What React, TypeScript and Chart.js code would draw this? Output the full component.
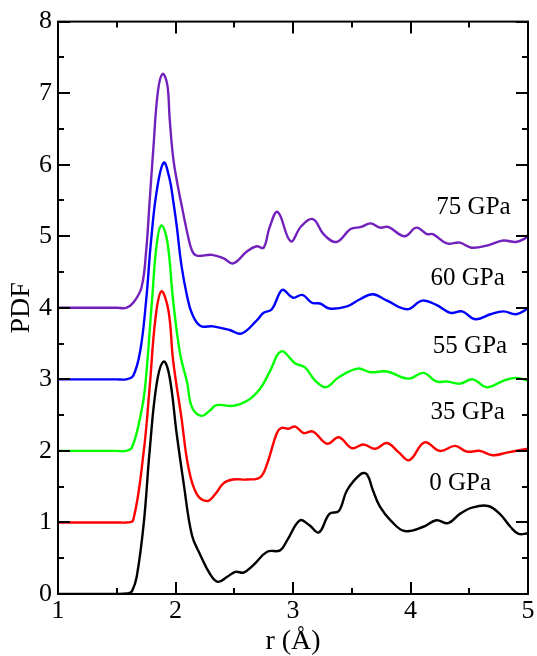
import React, { useEffect, useRef } from "react";
import { Chart, registerables } from "chart.js";

Chart.register(...registerables);

// Values are plotted PDF values, each curve already shifted by its offset (0,1,2,3,4)
const r0 = [1.0, 1.5, 1.6, 1.63, 1.67, 1.73, 1.78, 1.84, 1.9, 1.95, 2.01, 2.07, 2.14, 2.21, 2.29, 2.36, 2.44, 2.51, 2.58, 2.66, 2.78, 2.89, 2.95, 3.06, 3.14, 3.22, 3.31, 3.39, 3.46, 3.58, 3.63, 3.68, 3.74, 3.83, 3.95, 4.11, 4.22, 4.32, 4.42, 4.53, 4.66, 4.76, 4.85, 4.92, 5.0];
const g0 = [0, 0, 0.01, 0.04, 0.24, 0.99, 2.0, 2.94, 3.25, 3.03, 2.24, 1.54, 0.82, 0.55, 0.29, 0.17, 0.24, 0.31, 0.3, 0.4, 0.59, 0.61, 0.75, 1.03, 0.96, 0.86, 1.12, 1.16, 1.45, 1.68, 1.67, 1.45, 1.22, 1.03, 0.88, 0.94, 1.03, 0.99, 1.12, 1.21, 1.23, 1.12, 0.94, 0.84, 0.85];

const r35 = [1.0, 1.5, 1.58, 1.64, 1.73, 1.78, 1.83, 1.88, 1.94, 1.98, 2.05, 2.11, 2.18, 2.27, 2.34, 2.41, 2.49, 2.61, 2.72, 2.78, 2.86, 2.9, 2.96, 3.02, 3.09, 3.17, 3.29, 3.39, 3.5, 3.6, 3.7, 3.8, 3.9, 3.99, 4.12, 4.25, 4.38, 4.48, 4.59, 4.7, 4.83, 5.0];
const g35 = [1, 1, 1.0, 1.03, 2.0, 2.89, 3.86, 4.23, 3.96, 3.26, 2.47, 1.77, 1.4, 1.3, 1.4, 1.55, 1.6, 1.6, 1.63, 1.82, 2.24, 2.32, 2.31, 2.34, 2.25, 2.27, 2.1, 2.19, 2.04, 2.09, 2.03, 2.11, 1.98, 1.87, 2.12, 2.0, 2.07, 1.99, 2.0, 1.94, 1.98, 2.03];

const r55 = [1.0, 1.5, 1.58, 1.63, 1.7, 1.74, 1.8, 1.84, 1.88, 1.93, 1.98, 2.04, 2.1, 2.14, 2.22, 2.29, 2.35, 2.49, 2.61, 2.72, 2.8, 2.9, 3.02, 3.1, 3.19, 3.28, 3.39, 3.55, 3.66, 3.8, 3.98, 4.11, 4.22, 4.31, 4.42, 4.53, 4.65, 4.79, 4.9, 5.0];
const g55 = [2, 2, 2.0, 2.05, 2.47, 2.87, 4.1, 4.89, 5.15, 4.93, 4.1, 3.35, 2.95, 2.61, 2.49, 2.56, 2.64, 2.63, 2.7, 2.87, 3.1, 3.39, 3.22, 3.17, 2.98, 2.89, 3.03, 3.15, 3.1, 3.11, 3.01, 3.09, 2.97, 2.97, 2.94, 3.0, 2.89, 2.98, 3.02, 2.98];

const r60 = [1.0, 1.5, 1.58, 1.64, 1.7, 1.75, 1.79, 1.84, 1.9, 1.95, 1.98, 2.01, 2.05, 2.1, 2.14, 2.21, 2.32, 2.46, 2.56, 2.69, 2.75, 2.82, 2.89, 2.92, 3.0, 3.08, 3.16, 3.23, 3.31, 3.46, 3.57, 3.68, 3.8, 3.97, 4.1, 4.22, 4.34, 4.44, 4.55, 4.68, 4.79, 4.9, 5.0];
const g60 = [3, 3, 3.0, 3.05, 3.4, 4.1, 4.9, 5.63, 6.03, 5.8, 5.5, 5.15, 4.6, 4.15, 3.92, 3.75, 3.74, 3.69, 3.64, 3.82, 3.93, 3.98, 4.22, 4.25, 4.14, 4.18, 4.07, 4.06, 3.99, 4.02, 4.12, 4.19, 4.1, 3.98, 4.1, 4.04, 3.93, 3.95, 3.84, 3.91, 3.95, 3.91, 3.99];

const r75 = [1.0, 1.5, 1.58, 1.64, 1.71, 1.75, 1.78, 1.81, 1.85, 1.89, 1.93, 1.95, 1.98, 2.02, 2.05, 2.1, 2.14, 2.18, 2.31, 2.41, 2.49, 2.61, 2.69, 2.75, 2.8, 2.87, 2.98, 3.07, 3.17, 3.26, 3.37, 3.49, 3.58, 3.66, 3.74, 3.81, 3.95, 4.05, 4.14, 4.19, 4.31, 4.42, 4.52, 4.65, 4.79, 4.9, 5.0];
const g75 = [4, 4, 4.0, 4.07, 4.28, 4.79, 5.49, 6.19, 7.02, 7.27, 7.12, 6.65, 6.1, 5.7, 5.45, 5.05, 4.8, 4.73, 4.74, 4.69, 4.62, 4.79, 4.86, 4.84, 5.12, 5.34, 4.93, 5.14, 5.24, 5.03, 4.92, 5.1, 5.13, 5.18, 5.12, 5.13, 5.0, 5.12, 5.03, 5.03, 4.9, 4.91, 4.84, 4.87, 4.94, 4.92, 4.99];

const seriesR = [r0, r35, r55, r60, r75];
const seriesG = [g0, g35, g55, g60, g75];
const seriesNames = ["0 GPa", "35 GPa", "55 GPa", "60 GPa", "75 GPa"];
const seriesColors = ["#000000", "#ff0000", "#00ff00", "#0000ff", "#7221bc"];

// Text label anchors (data units: r, PDF)
const labelR = [4.16, 4.17, 4.19, 4.17, 4.22];
const labelY = [1.46, 2.44, 3.37, 4.32, 5.31];

const xMajor = [1, 2, 3, 4, 5];
const xMinor = [1.5, 2.5, 3.5, 4.5];
const yMajor = [0, 1, 2, 3, 4, 5, 6, 7, 8];
const yMinor = [0.5, 1.5, 2.5, 3.5, 4.5, 5.5, 6.5, 7.5];

const FONT = "'Liberation Serif', 'Times New Roman', serif";

const framePlugin = {
  id: "frameTicks",
  afterDraw(chart: any) {
    const { ctx, chartArea: a, scales } = chart;
    const xs = scales.x;
    const ys = scales.y;
    ctx.save();
    ctx.strokeStyle = "#000";
    ctx.lineWidth = 2;
    ctx.lineCap = "butt";
    ctx.strokeRect(a.left, a.top, a.right - a.left, a.bottom - a.top);
    const major = 12;
    const minor = 6;
    ctx.beginPath();
    const xt = (v: number, len: number) => {
      const p = Math.round(xs.getPixelForValue(v));
      ctx.moveTo(p, a.bottom);
      ctx.lineTo(p, a.bottom - len);
      ctx.moveTo(p, a.top);
      ctx.lineTo(p, a.top + len);
    };
    const yt = (v: number, len: number) => {
      const p = Math.round(ys.getPixelForValue(v));
      ctx.moveTo(a.left, p);
      ctx.lineTo(a.left + len, p);
      ctx.moveTo(a.right, p);
      ctx.lineTo(a.right - len, p);
    };
    xMajor.forEach((v) => xt(v, major));
    xMinor.forEach((v) => xt(v, minor));
    yMajor.forEach((v) => yt(v, major));
    yMinor.forEach((v) => yt(v, minor));
    ctx.stroke();

    ctx.fillStyle = "#000";
    ctx.font = `25px ${FONT}`;
    ctx.textAlign = "left";
    ctx.textBaseline = "alphabetic";
    seriesNames.forEach((name, i) => {
      ctx.fillText(name, xs.getPixelForValue(labelR[i]), ys.getPixelForValue(labelY[i]));
    });
    ctx.restore();
  },
};

export default function App() {
  const ref = useRef<HTMLCanvasElement | null>(null);
  useEffect(() => {
    if (!ref.current) return;
    const chart = new Chart(ref.current, {
      type: "line",
      data: {
        datasets: seriesR.map((rs, i) => ({
          label: seriesNames[i],
          data: rs.map((x, j) => ({ x, y: seriesG[i][j] })),
          borderColor: seriesColors[i],
          backgroundColor: seriesColors[i],
          borderWidth: 2.4,
          pointRadius: 0,
          fill: false,
          tension: 0.4,
        })),
      },
      options: {
        animation: false,
        responsive: true,
        maintainAspectRatio: false,
        devicePixelRatio: 1,
        layout: { padding: { top: 20, right: 9, left: 0, bottom: 0 } },
        plugins: { legend: { display: false }, tooltip: { enabled: false } },
        scales: {
          x: {
            type: "linear",
            min: 1,
            max: 5,
            grid: { display: false, drawTicks: false },
            border: { display: false },
            ticks: {
              stepSize: 1,
              color: "#000",
              padding: 2,
              maxRotation: 0,
              font: { family: FONT, size: 26 },
            },
            title: {
              display: true,
              text: "r (Å)",
              color: "#000",
              font: { family: FONT, size: 28, lineHeight: 1 },
              padding: { top: 0, bottom: 0 },
            },
            afterFit: (s: any) => {
              s.height = 62;
            },
          },
          y: {
            type: "linear",
            min: 0,
            max: 8,
            grid: { display: false, drawTicks: false },
            border: { display: false },
            ticks: {
              stepSize: 1,
              color: "#000",
              padding: 6,
              font: { family: FONT, size: 26 },
            },
            title: {
              display: true,
              text: "PDF",
              color: "#000",
              font: { family: FONT, size: 28, lineHeight: 1 },
              padding: { top: 8, bottom: 0 },
            },
            afterFit: (s: any) => {
              s.width = 58;
            },
          },
        },
      },
      plugins: [framePlugin],
    });
    return () => chart.destroy();
  }, []);
  return (
    <div style={{ position: "absolute", left: 0, top: 0, width: 537, height: 656, background: "#fff" }}>
      <canvas ref={ref} />
    </div>
  );
}
